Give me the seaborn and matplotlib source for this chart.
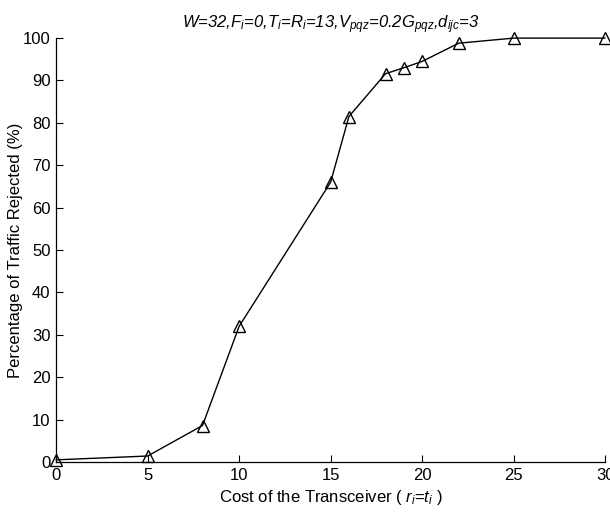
import matplotlib
matplotlib.use("Agg")
import matplotlib.pyplot as plt
import seaborn as sns
import pandas as pd

cost = [0, 5, 8, 10, 15, 16, 18, 19, 20, 22, 25, 30]
rejected = [0.5, 1.4, 8.6, 32.0, 66.0, 81.5, 91.6, 93.0, 94.5, 98.8, 100.0, 100.0]
xticks = [0, 5, 10, 15, 20, 25, 30]
yticks = [0, 10, 20, 30, 40, 50, 60, 70, 80, 90, 100]

sns.set_style("ticks")
plt.rcParams['font.family'] = ['Liberation Sans', 'DejaVu Sans']
plt.rcParams['mathtext.fontset'] = 'custom'
plt.rcParams['mathtext.rm'] = 'Liberation Sans'
plt.rcParams['mathtext.it'] = 'Liberation Sans:italic'
plt.rcParams['text.color'] = 'black'
plt.rcParams['axes.labelcolor'] = 'black'
plt.rcParams['xtick.color'] = 'black'
plt.rcParams['ytick.color'] = 'black'

df = pd.DataFrame({"cost": cost, "rejected": rejected})

fig = plt.figure(figsize=(6.1, 5.15), dpi=100)
ax = fig.add_axes([0.092, 0.103, 0.9, 0.823])
sns.lineplot(data=df, x="cost", y="rejected", ax=ax, color="black", linewidth=1.0,
             marker="^", markersize=9, markerfacecolor="none", markeredgecolor="black",
             markeredgewidth=1.0, clip_on=False)
ax.set_xlim(0, 30)
ax.set_ylim(0, 100)
ax.set_xticks(xticks)
ax.set_yticks(yticks)
ax.tick_params(direction="in", length=5, labelsize=12, width=0.8, pad=4)
for s in ["top", "right"]:
    ax.spines[s].set_visible(False)
for s in ["left", "bottom"]:
    ax.spines[s].set_linewidth(0.9)
    ax.spines[s].set_color("black")
ax.set_xlabel(r"Cost of the Transceiver ( $r_i$=$t_i$ )", fontsize=12, color="black")
ax.set_ylabel("Percentage of Traffic Rejected (%)", fontsize=12, color="black", labelpad=0)
ax.set_title(r"$W$=32,$F_i$=0,$T_i$=$R_i$=13,$V_{pqz}$=0.2$G_{pqz}$,$d_{ijc}$=3",
             fontsize=12, style="italic", pad=7, color="black")
fig.savefig("out.png", dpi=100)
